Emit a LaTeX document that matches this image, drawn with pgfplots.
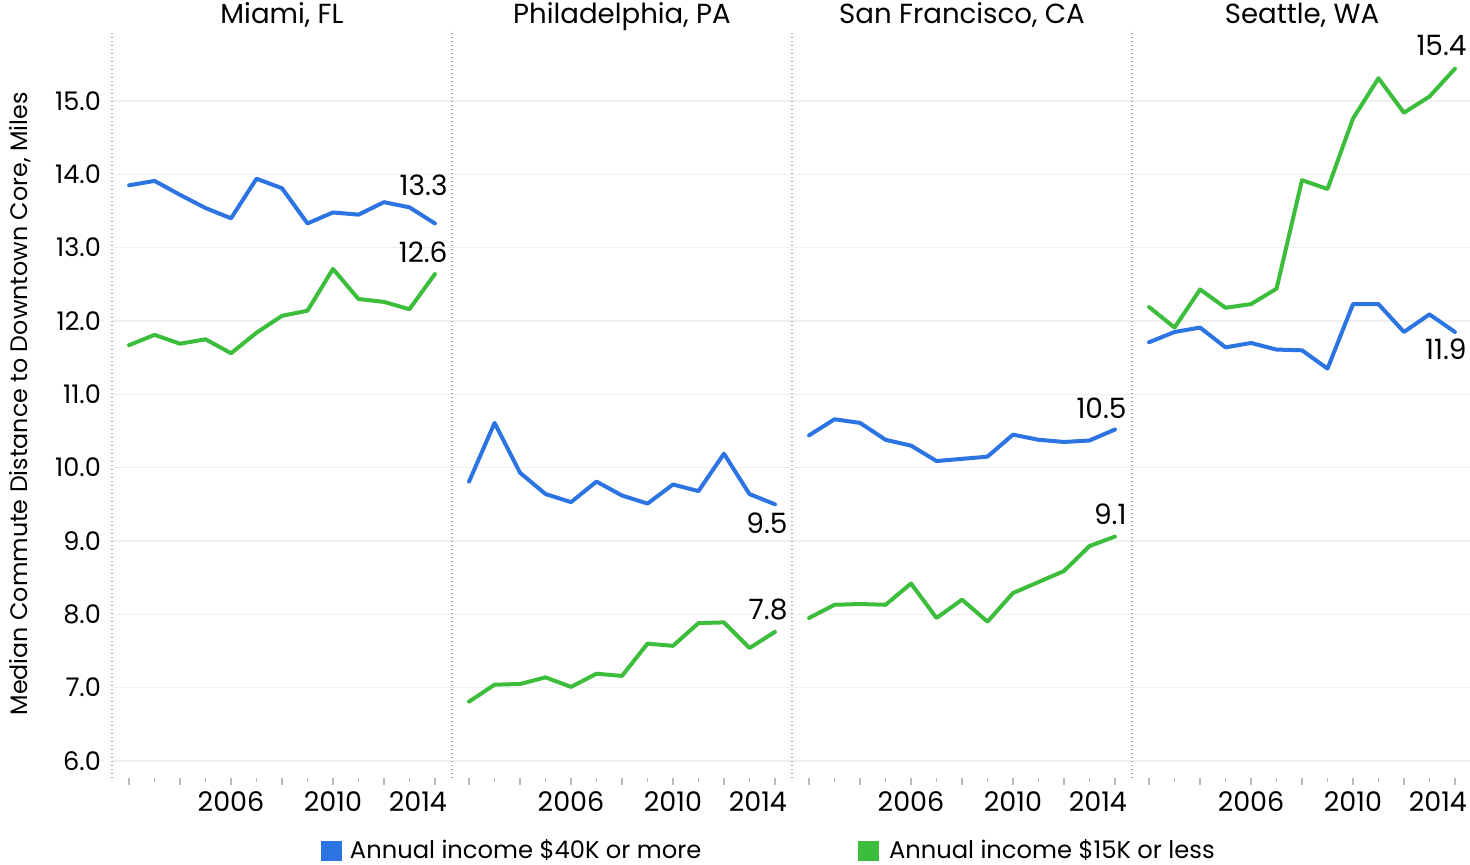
\documentclass[border=0pt]{standalone}
\usepackage{pgfplots}
\usepackage{pgfplotstable}
\pgfplotsset{compat=1.18}
\usepackage{fontspec}
\setmainfont{Poppins}
\definecolor{cblue}{RGB}{43,116,225}
\definecolor{cgreen}{RGB}{60,190,60}
\definecolor{gridc}{RGB}{240,240,240}

\pgfplotstableread{
year  mb     mg     pb     pg    sb     sg    eb     eg
2002  13.85  11.67  9.81   6.81  10.44  7.95  11.71  12.19
2003  13.91  11.81  10.61  7.04  10.66  8.13  11.85  11.91
2004  13.72  11.69  9.93   7.05  10.61  8.14  11.91  12.43
2005  13.54  11.75  9.64   7.14  10.38  8.13  11.64  12.18
2006  13.40  11.56  9.53   7.01  10.30  8.42  11.70  12.23
2007  13.94  11.84  9.81   7.19  10.09  7.95  11.61  12.44
2008  13.81  12.07  9.62   7.16  10.12  8.20  11.60  13.92
2009  13.33  12.14  9.51   7.60  10.15  7.90  11.35  13.80
2010  13.48  12.71  9.77   7.57  10.45  8.29  12.23  14.76
2011  13.45  12.30  9.68   7.88  10.38  8.44  12.23  15.31
2012  13.62  12.26  10.19  7.89  10.35  8.59  11.85  14.84
2013  13.55  12.16  9.64   7.54  10.37  8.93  12.09  15.06
2014  13.33  12.64  9.50   7.76  10.52  9.06  11.85  15.44
}\data

\tikzset{
  bl/.style={color=cblue, line width=2pt, line join=round, line cap=round},
  gr/.style={color=cgreen, line width=2pt, line join=round, line cap=round},
  endlab/.style={anchor=base east, inner sep=0pt, font=\fontsize{14}{16}\selectfont},
  sep/.style={draw=gray!70, line width=0.6pt, dash pattern=on 0.6pt off 1.4pt},
}
\pgfplotsset{
  panel/.style={
    scale only axis, width=170pt, height=374pt,
    xmin=2001.33, xmax=2014.67, ymin=5.768, ymax=15.968,
    axis line style={draw=none},
    xtick={2002,2004,...,2014},
    xticklabels={,,2006,,2010,,\hspace*{12pt}\llap{2014}},
    minor xtick={2003,2005,...,2013},
    xtick pos=left, ytick pos=left,
    tick align=outside,
    major x tick style={draw=gray!55, line width=0.6pt},
    minor x tick style={draw=gray!55, line width=0.6pt},
    major tick length=3.5pt, minor tick length=2pt,
    ytick={6,...,15},
    ymajorgrids, grid style={draw=gridc, line width=0.7pt},
    major y tick style={draw=none},
    yticklabels={},
    xticklabel style={font=\fontsize{13.5}{15}\selectfont},
    yticklabel style={font=\fontsize{12.8}{15}\selectfont},
    /pgf/number format/assume math mode=true,
    every axis title shift=0pt,
    title style={at={(rel axis cs:0.5,1)}, anchor=base, yshift=3pt, font=\fontsize{13.8}{15}\selectfont},
    clip=false,
  },
}

\begin{document}
\begin{tikzpicture}
\useasboundingbox (-56pt,-43.5pt) rectangle (679pt,389pt);

% Miami
\begin{axis}[panel, at={(0pt,0pt)}, anchor=south west, title={Miami, FL},
  yticklabels={6.0,7.0,8.0,9.0,10.0,11.0,12.0,13.0,14.0,15.0},
  yticklabel style={xshift=1.5pt},
  ylabel={Median Commute Distance to Downtown Core, Miles},
  every axis y label/.style={at={(rel axis cs:0,0.5)}, xshift=-46pt, rotate=90, anchor=center, font=\fontsize{11.9}{13}\selectfont},
  legend style={at={(rel axis cs:0.6147,-0.0975)}, anchor=west, draw=none, fill=none,
    inner sep=0pt, outer sep=0pt, nodes={inner sep=0pt, font=\fontsize{12.1}{14}\selectfont},
    legend columns=2},
  legend image code/.code={\fill[#1, draw=none] (0pt,-5pt) rectangle (10.5pt,5pt);},
]
\draw[sep] (rel axis cs:0,0) -- (rel axis cs:0,1);
\addplot[bl] table[x=year, y=mb] {\data};
\addplot[gr] table[x=year, y=mg] {\data};
\legend{\makebox[258pt][l]{\hspace*{4pt}Annual income \$40K or more}, \hspace*{5pt}Annual income \$15K or less}
\node[endlab] at (axis cs:2014,13.33) [xshift=6.5pt, yshift=14pt] {13.3};
\node[endlab] at (axis cs:2014,12.64) [xshift=6.5pt, yshift=6pt] {12.6};
\end{axis}

% Philadelphia
\begin{axis}[panel, at={(170pt,0pt)}, anchor=south west, title={Philadelphia, PA}]
\draw[sep] (rel axis cs:0,0) -- (rel axis cs:0,1);
\addplot[bl] table[x=year, y=pb] {\data};
\addplot[gr] table[x=year, y=pg] {\data};
\node[endlab] at (axis cs:2014,9.50) [xshift=6.5pt, yshift=-14.5pt] {9.5};
\node[endlab] at (axis cs:2014,7.76) [xshift=6.5pt, yshift=6pt] {7.8};
\end{axis}

% San Francisco
\begin{axis}[panel, at={(340pt,0pt)}, anchor=south west, title={San Francisco, CA}]
\draw[sep] (rel axis cs:0,0) -- (rel axis cs:0,1);
\addplot[bl] table[x=year, y=sb] {\data};
\addplot[gr] table[x=year, y=sg] {\data};
\node[endlab] at (axis cs:2014,10.52) [xshift=6pt, yshift=5.5pt] {10.5};
\node[endlab] at (axis cs:2014,9.06) [xshift=6pt, yshift=6pt] {9.1};
\end{axis}

% Seattle
\begin{axis}[panel, at={(510pt,0pt)}, anchor=south west, title={Seattle, WA}]
\draw[sep] (rel axis cs:0,0) -- (rel axis cs:0,1);
\addplot[bl] table[x=year, y=eb] {\data};
\addplot[gr] table[x=year, y=eg] {\data};
\node[endlab] at (axis cs:2014,15.44) [xshift=6pt, yshift=6.5pt] {15.4};
\node[endlab] at (axis cs:2014,11.85) [xshift=6pt, yshift=-14pt] {11.9};
\end{axis}
\end{tikzpicture}
\end{document}
